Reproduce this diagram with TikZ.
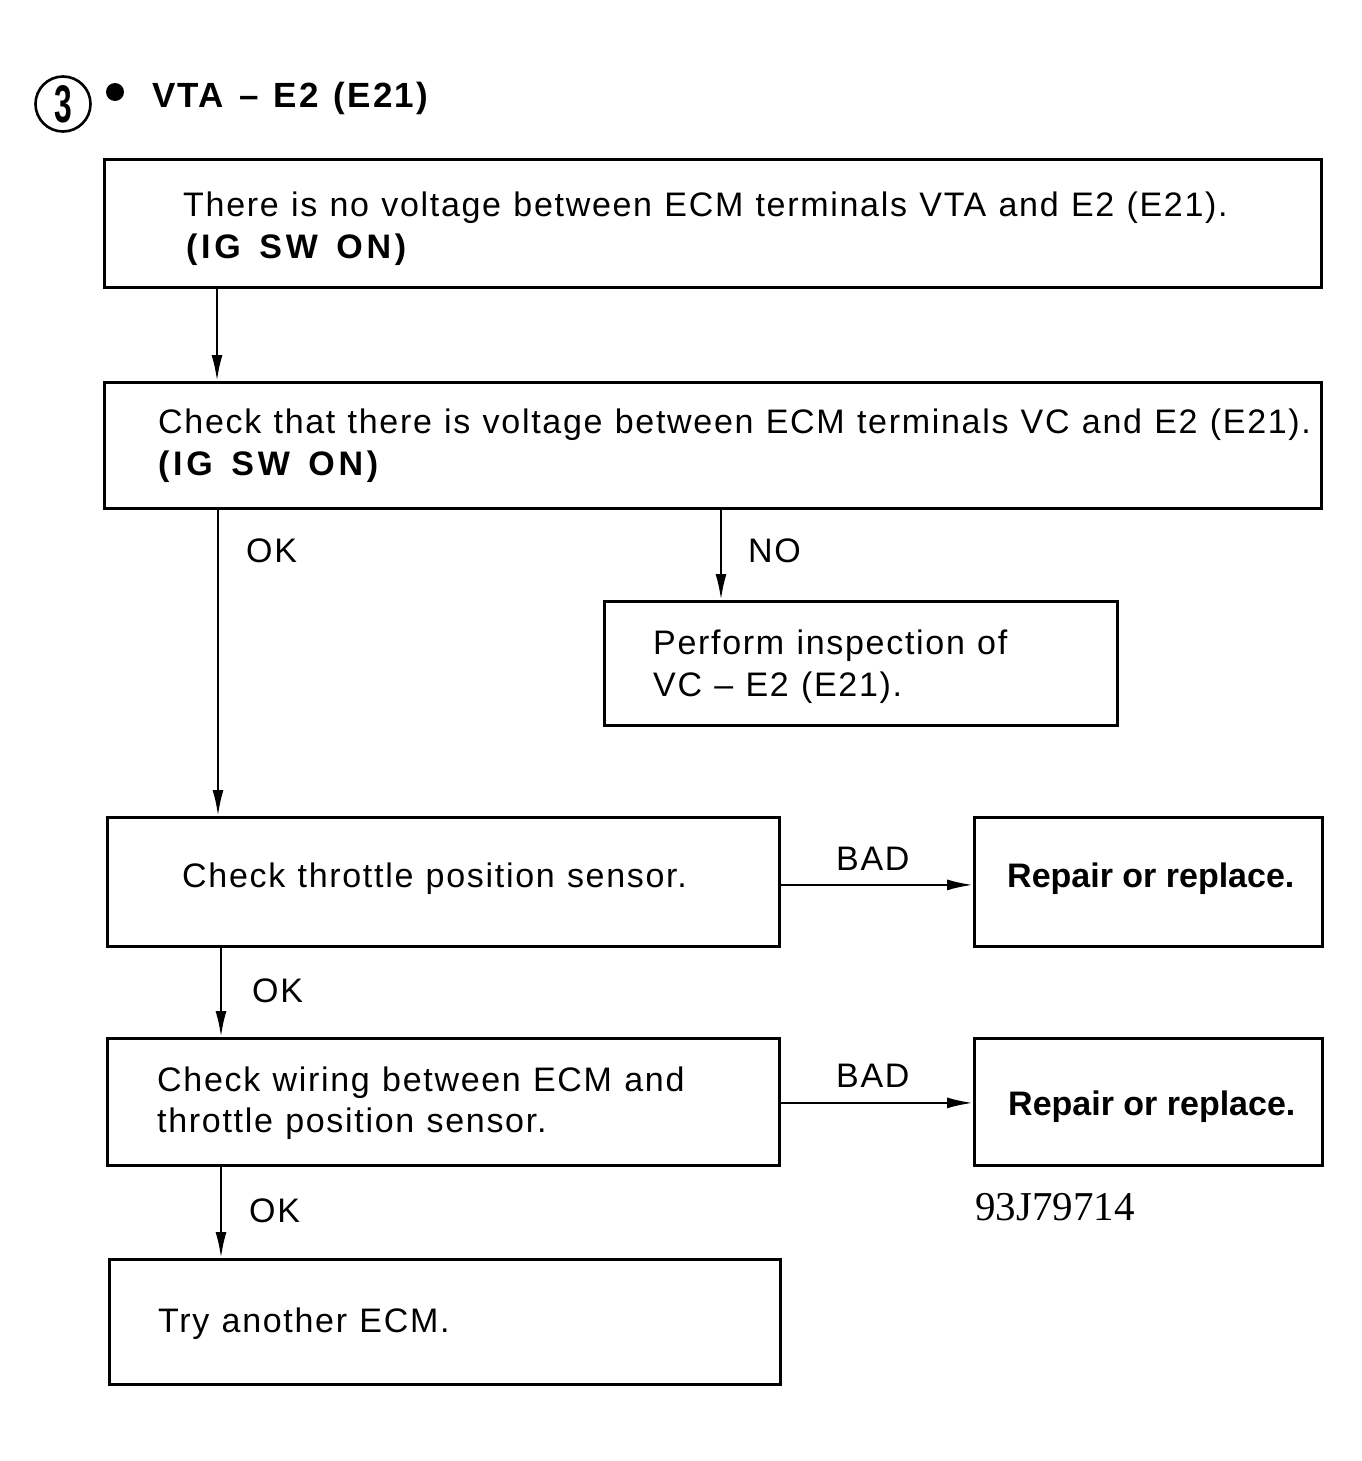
\documentclass[tikz,border=0pt]{standalone}
\usepackage{graphicx}
\usepackage{fontspec}
\setmainfont{Liberation Sans}
\newfontfamily\serifnum{Liberation Serif}
\newfontfamily\regsp{Liberation Sans}[LetterSpace=5,WordSpace=1.1]
\newfontfamily\igsp{Liberation Sans}[LetterSpace=11,WordSpace=1.4]
\newfontfamily\hdsp{Liberation Sans}[LetterSpace=6.5,WordSpace=1.25]
\usetikzlibrary{arrows.meta}
\begin{document}
\begin{tikzpicture}[x=1pt,y=-1pt,
  box/.style={draw,line width=2.8pt,rectangle,inner sep=0pt,anchor=north west},
  txt/.style={anchor=base west,inner sep=0pt,font=\regsp\fontsize{34}{41}\selectfont},
  igtxt/.style={anchor=base west,inner sep=0pt,font=\igsp\fontsize{34}{41}\selectfont\bfseries},
  btxt/.style={anchor=base west,inner sep=0pt,font=\fontsize{34}{41}\selectfont\bfseries},
  arr/.style={line width=2.4pt,-{Latex[length=26pt,width=11pt]}}]
\useasboundingbox (0,0) rectangle (1361,1461);
% header
\node[draw,circle,line width=2.6pt,minimum size=55pt,inner sep=0pt,font=\fontsize{53}{56}\selectfont\bfseries] (c3) at (63,104) {\scalebox{0.6}[1]{3}};
\node[circle,fill,minimum size=18pt,inner sep=0pt] (dot) at (115,92) {};
\node[anchor=base west,inner sep=0pt,font=\hdsp\fontsize{35}{40}\selectfont\bfseries] (hd) at (152,108) {VTA – E2 (E21)};
% boxes
\node[box,minimum width=1217pt,minimum height=128pt] (b1) at (103,158) {};
\node[box,minimum width=1217pt,minimum height=126pt] (b2) at (103,381) {};
\node[box,minimum width=513pt,minimum height=124pt] (b3) at (603,600) {};
\node[box,minimum width=672pt,minimum height=129pt] (b4) at (106,816) {};
\node[box,minimum width=348pt,minimum height=129pt] (b5) at (973,816) {};
\node[box,minimum width=672pt,minimum height=127pt] (b6) at (106,1037) {};
\node[box,minimum width=348pt,minimum height=127pt] (b7) at (973,1037) {};
\node[box,minimum width=671pt,minimum height=125pt] (b8) at (108,1258) {};
% texts
\node[txt] (t1a) at (183,216) {There is no voltage between ECM terminals VTA and E2 (E21).};
\node[igtxt] (t1b) at (186,258) {(IG SW ON)};
\node[txt] (t2a) at (158,433) {Check that there is voltage between ECM terminals VC and E2 (E21).};
\node[igtxt] (t2b) at (158,475) {(IG SW ON)};
\node[txt] (t3a) at (653,654) {Perform inspection of};
\node[txt] (t3b) at (653,696) {VC – E2 (E21).};
\node[txt] (t4) at (182,887) {Check throttle position sensor.};
\node[btxt] (t5) at (1007,887) {Repair or replace.};
\node[txt] (t6a) at (157,1091) {Check wiring between ECM and};
\node[txt] (t6b) at (157,1132) {throttle position sensor.};
\node[btxt] (t7) at (1008,1115) {Repair or replace.};
\node[txt] (t8) at (158,1332) {Try another ECM.};
% labels
\node[txt] (ok1) at (246,562) {OK};
\node[txt] (no1) at (748,562) {NO};
\node[txt] (ok2) at (252,1002) {OK};
\node[txt] (ok3) at (249,1222) {OK};
\node[txt] (bad1) at (836,870) {BAD};
\node[txt] (bad2) at (836,1087) {BAD};
\node[anchor=base west,inner sep=0pt,font=\serifnum\fontsize{41}{44}\selectfont] (code) at (975,1220) {93J79714};
% connectors
\draw[arr] ([xshift=114pt]b1.south west) -- ([xshift=114pt]b1.south west |- b2.north);
\draw[arr] ([xshift=115pt]b2.south west) -- ([xshift=115pt]b2.south west |- b4.north);
\draw[arr] ([xshift=618pt]b2.south west) -- ([xshift=618pt]b2.south west |- b3.north);
\draw[arr] ([xshift=115pt]b4.south west) -- ([xshift=115pt]b4.south west |- b6.north);
\draw[arr] ([xshift=115pt]b6.south west) -- ([xshift=115pt]b6.south west |- b8.north);
\draw[arr] ([yshift=-3pt]b4.east) -- ([yshift=-3pt]b5.west);
\draw[arr] ([yshift=-1pt]b6.east) -- ([yshift=-1pt]b7.west);
\end{tikzpicture}
\end{document}
